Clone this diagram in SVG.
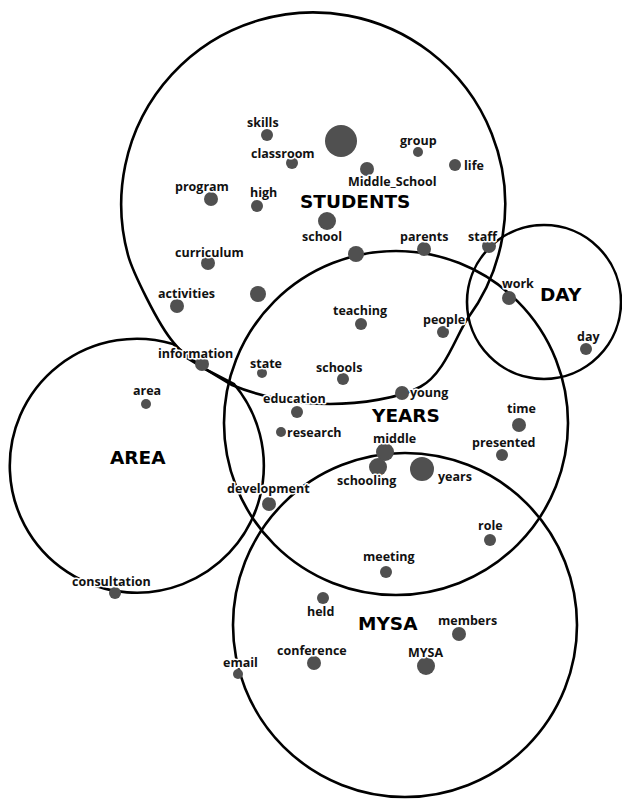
<svg xmlns="http://www.w3.org/2000/svg" width="622" height="802" viewBox="0 0 622 802">
<style>
.hull{fill:none;stroke:#000;stroke-width:2.6}
.dot{fill:#505050}
.lbl{font-family:"Open Sans","Liberation Sans",sans-serif;font-weight:700;font-size:12.5px;fill:#111;stroke:#fff;stroke-width:3;paint-order:stroke;stroke-linejoin:round}
.ttl{font-family:"DejaVu Sans","Liberation Sans",sans-serif;font-weight:700;font-size:18.5px;fill:#000;stroke:#fff;stroke-width:3;paint-order:stroke}
</style>
<rect width="622" height="802" fill="#fff"/>
<g id="connectors">
<path id="hull-students" class="hull" d="M174,343 C158,325 132,270 128,255 A192 192 0 1 1 468,318 C457,333 445,374 420,387 C400,398 360,404 330,404 C295,404 258,396 232,385 L187,358 Z"/>
<path id="hull-area" class="hull" d="M173,344 A127 127 0 1 0 234,384 L203,368 Z"/>
<circle id="hull-years" class="hull" cx="396" cy="423" r="172"/>
<circle id="hull-mysa" class="hull" cx="405" cy="625" r="172"/>
<circle id="hull-day" class="hull" cx="544" cy="302" r="77"/>
</g>
<g id="titles">
<text class="ttl" x="300" y="208">STUDENTS</text>
<text class="ttl" x="540" y="301">DAY</text>
<text class="ttl" x="110" y="464">AREA</text>
<text class="ttl" x="372" y="422">YEARS</text>
<text class="ttl" x="358" y="630">MYSA</text>
</g>
<g id="nodes">
<g id="n-big1"><circle class="dot" cx="341" cy="141" r="16"/></g>
<g id="n-skills"><circle class="dot" cx="267" cy="135" r="6"/><text class="lbl" x="247" y="127">skills</text></g>
<g id="n-classroom"><circle class="dot" cx="292" cy="163" r="6"/><text class="lbl" x="251" y="158">classroom</text></g>
<g id="n-program"><circle class="dot" cx="211" cy="199" r="7"/><text class="lbl" x="175" y="191">program</text></g>
<g id="n-high"><circle class="dot" cx="257" cy="206" r="6"/><text class="lbl" x="250" y="197">high</text></g>
<g id="n-group"><circle class="dot" cx="418" cy="152" r="5"/><text class="lbl" x="400" y="145">group</text></g>
<g id="n-life"><circle class="dot" cx="455" cy="165" r="6"/><text class="lbl" x="464" y="170">life</text></g>
<g id="n-middle_school"><circle class="dot" cx="367" cy="169" r="7"/><text class="lbl" x="348" y="186">Middle_School</text></g>
<g id="n-school"><circle class="dot" cx="327" cy="221" r="9"/><text class="lbl" x="302" y="241">school</text></g>
<g id="n-school2"><circle class="dot" cx="356" cy="254" r="8"/></g>
<g id="n-parents"><circle class="dot" cx="424" cy="249" r="7"/><text class="lbl" x="400" y="241">parents</text></g>
<g id="n-staff"><circle class="dot" cx="489" cy="246" r="7"/><text class="lbl" x="468" y="241">staff</text></g>
<g id="n-curriculum"><circle class="dot" cx="208" cy="263" r="7"/><text class="lbl" x="175" y="257">curriculum</text></g>
<g id="n-activities"><circle class="dot" cx="177" cy="306" r="7"/><text class="lbl" x="158" y="298">activities</text></g>
<g id="n-big2"><circle class="dot" cx="258" cy="294" r="8"/></g>
<g id="n-information"><circle class="dot" cx="202" cy="364" r="7"/><text class="lbl" x="158" y="358">information</text></g>
<g id="n-state"><circle class="dot" cx="262" cy="373" r="5"/><text class="lbl" x="250" y="368">state</text></g>
<g id="n-schools"><circle class="dot" cx="343" cy="379" r="6"/><text class="lbl" x="316" y="372">schools</text></g>
<g id="n-teaching"><circle class="dot" cx="361" cy="324" r="6"/><text class="lbl" x="333" y="315">teaching</text></g>
<g id="n-people"><circle class="dot" cx="443" cy="332" r="6"/><text class="lbl" x="423" y="324">people</text></g>
<g id="n-work"><circle class="dot" cx="509" cy="298" r="7"/><text class="lbl" x="502" y="288">work</text></g>
<g id="n-day"><circle class="dot" cx="586" cy="349" r="6"/><text class="lbl" x="577" y="341">day</text></g>
<g id="n-area"><circle class="dot" cx="146" cy="404" r="5"/><text class="lbl" x="133" y="395">area</text></g>
<g id="n-consultation"><circle class="dot" cx="115" cy="593" r="6"/><text class="lbl" x="72" y="586">consultation</text></g>
<g id="n-education"><circle class="dot" cx="297" cy="412" r="6"/><text class="lbl" x="263" y="403">education</text></g>
<g id="n-research"><circle class="dot" cx="281" cy="432" r="5"/><text class="lbl" x="287" y="437">research</text></g>
<g id="n-young"><circle class="dot" cx="402" cy="393" r="7"/><text class="lbl" x="410" y="397">young</text></g>
<g id="n-middle"><circle class="dot" cx="385" cy="452" r="9"/><text class="lbl" x="373" y="443">middle</text></g>
<g id="n-schooling"><circle class="dot" cx="378" cy="467" r="9"/><text class="lbl" x="337" y="485">schooling</text></g>
<g id="n-years"><circle class="dot" cx="422" cy="469" r="12"/><text class="lbl" x="438" y="481">years</text></g>
<g id="n-time"><circle class="dot" cx="519" cy="425" r="7"/><text class="lbl" x="507" y="413">time</text></g>
<g id="n-presented"><circle class="dot" cx="502" cy="455" r="6"/><text class="lbl" x="472" y="447">presented</text></g>
<g id="n-development"><circle class="dot" cx="269" cy="504" r="7"/><text class="lbl" x="227" y="493">development</text></g>
<g id="n-role"><circle class="dot" cx="490" cy="540" r="6"/><text class="lbl" x="478" y="530">role</text></g>
<g id="n-meeting"><circle class="dot" cx="386" cy="572" r="6"/><text class="lbl" x="363" y="561">meeting</text></g>
<g id="n-held"><circle class="dot" cx="323" cy="598" r="6"/><text class="lbl" x="307" y="616">held</text></g>
<g id="n-members"><circle class="dot" cx="459" cy="634" r="7"/><text class="lbl" x="438" y="625">members</text></g>
<g id="n-conference"><circle class="dot" cx="314" cy="663" r="7"/><text class="lbl" x="277" y="655">conference</text></g>
<g id="n-mysa"><circle class="dot" cx="426" cy="666" r="9"/><text class="lbl" x="408" y="657">MYSA</text></g>
<g id="n-email"><circle class="dot" cx="238" cy="674" r="5"/><text class="lbl" x="223" y="667">email</text></g>
</g>
</svg>
